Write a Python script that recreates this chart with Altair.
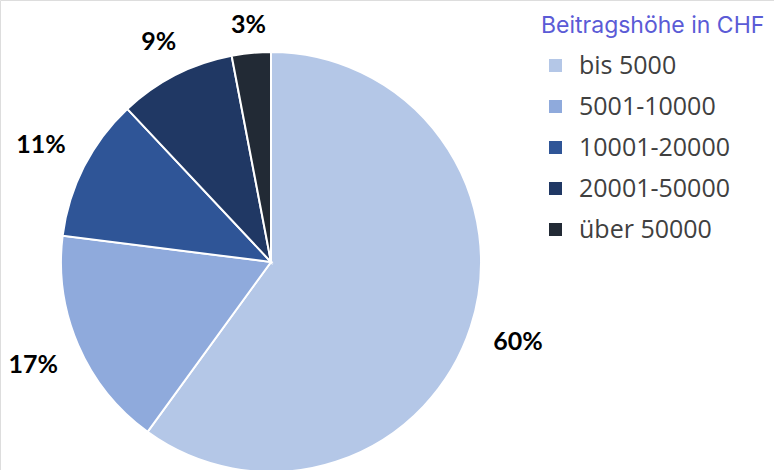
import altair as alt
import pandas as pd

categories = ["bis 5000", "5001-10000", "10001-20000", "20001-50000", "über 50000"]
values = [60, 17, 11, 9, 3]
labels = ["60%", "17%", "11%", "9%", "3%"]
colors = ["#B4C7E7", "#8FAADC", "#2F5597", "#203864", "#222A35"]

df = pd.DataFrame({"cat": categories, "v": values, "lab": labels, "idx": list(range(len(values)))})

CX, CY, R = 271, 262, 210

pie = alt.Chart(df).mark_arc(outerRadius=R, stroke="white", strokeWidth=2).encode(
    theta=alt.Theta("v:Q", stack=True),
    order=alt.Order("idx:Q"),
    x=alt.value(CX),
    y=alt.value(CY),
    color=alt.Color(
        "cat:N",
        sort=categories,
        scale=alt.Scale(domain=categories, range=colors),
        legend=alt.Legend(
            title="Beitragshöhe in CHF",
            orient="none",
            legendX=541,
            legendY=15,
            titleFont="Inter",
            titleFontSize=23,
            titleFontWeight="normal",
            titleColor="#5B5BD6",
            titleLimit=400,
            titlePadding=15,
            labelFont="Open Sans",
            labelFontSize=25,
            labelColor="#404040",
            labelLimit=400,
            labelOffset=11,
            symbolType="square",
            symbolSize=169,
            symbolStrokeWidth=0,
            symbolOffset=2,
            rowPadding=15,
            padding=0,
        ),
    ),
)

text = (
    alt.Chart(df)
    .transform_window(cum="sum(v)", sort=[{"field": "idx"}])
    .transform_joinaggregate(tot="sum(v)")
    .transform_calculate(
        mid="(datum.cum - datum.v/2) / datum.tot * 2 * PI",
        lr="236 + 25 * abs(sin(datum.mid))",
    )
    .transform_calculate(
        px=f"{CX} + datum.lr * sin(datum.mid)",
        py=f"{CY} - datum.lr * cos(datum.mid)",
    )
    .mark_text(font="Lato", fontWeight="bold", fontSize=25, color="#000000")
    .encode(
        text="lab:N",
        x=alt.X("px:Q", scale=None),
        y=alt.Y("py:Q", scale=None),
    )
)

chart = (
    alt.layer(pie, text)
    .properties(width=774, height=470, autosize=alt.AutoSizeParams(type="none"), padding=0)
    .configure_view(stroke=None)
    .configure(background="white")
)

chart.save("out.html", embed_options={"renderer": "svg", "actions": False})
